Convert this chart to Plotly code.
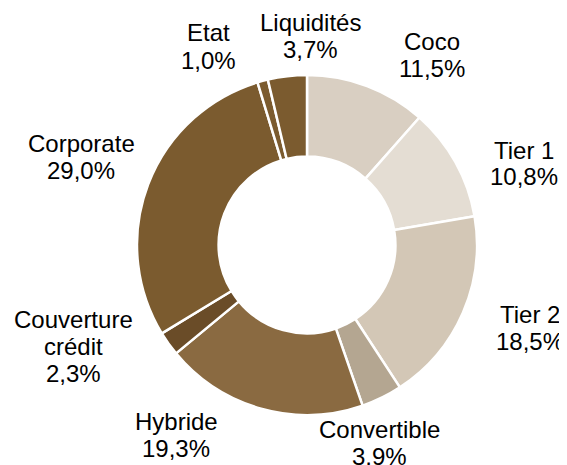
import plotly.graph_objects as go

categories = ["Coco", "Tier 1", "Tier 2", "Convertible", "Hybride",
              "Couverture crédit", "Corporate", "Etat", "Liquidités"]
values = [11.5, 10.8, 18.5, 3.9, 19.3, 2.3, 29.0, 1.0, 3.7]
label_lines = [["Coco"], ["Tier 1"], ["Tier 2"], ["Convertible"], ["Hybride"],
               ["Couverture", "crédit"], ["Corporate"], ["Etat"], ["Liquidités"]]
colors = ["#D9CFC2", "#E4DDD3", "#D3C7B6", "#B4A691", "#8A6A41",
          "#6A4C28", "#7B5B2F", "#7B5B2F", "#7B5B2F"]

OFF = 8  # page body margin
W, H = 567 - OFF, 465 - OFF
# label centre positions (window pixels) of first line
label_pos = [(432, 41), (524, 150), (530, 314), (379, 429), (176, 421),
             (73, 319), (81, 143), (208, 33), (310, 23)]
LINE = 27
CX, CY, R = 307 - OFF, 245 - OFF, 170

fig = go.Figure(go.Pie(
    labels=categories, values=values, sort=False, direction="clockwise",
    rotation=0, hole=0.52, textinfo="none", hoverinfo="label+percent",
    marker=dict(colors=colors, line=dict(color="white", width=2.5)),
    domain=dict(x=[(CX - R) / W, (CX + R) / W],
                y=[1 - (CY + R) / H, 1 - (CY - R) / H]),
))

annotations = []
for lines, v, (px, py) in zip(label_lines, values, label_pos):
    all_lines = lines + [f"{v:.1f}%".replace(".", ",")]
    for i, t in enumerate(all_lines):
        annotations.append(dict(
            text=t, x=(px - OFF) / W, y=1 - (py - OFF + i * LINE) / H,
            xref="paper", yref="paper",
            showarrow=False, xanchor="center", yanchor="middle",
            font=dict(family="Liberation Sans, Arial", size=24, color="#000000")))

fig.update_layout(
    width=W, height=H, margin=dict(l=0, r=0, t=0, b=0),
    paper_bgcolor="white", plot_bgcolor="white", showlegend=False,
    annotations=annotations,
)
fig.write_html("out.html")
